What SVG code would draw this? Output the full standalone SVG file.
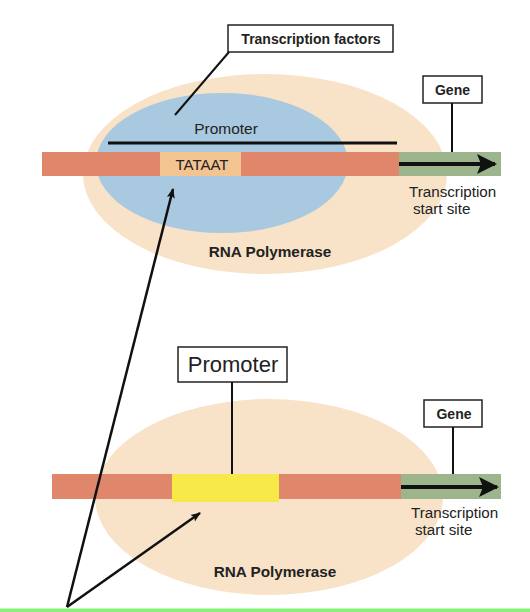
<svg xmlns="http://www.w3.org/2000/svg" width="530" height="612" viewBox="0 0 530 612">
<style>
.lbl{font-family:"Liberation Sans",Arial,sans-serif;fill:#222}
.b{font-weight:bold;font-size:14px}
.rp{font-weight:bold;font-size:15.3px}
.n{font-size:15.2px}
.box{fill:#fff;stroke:#222;stroke-width:1.5}
.ln{stroke:#111;stroke-width:2;fill:none}
.red{fill:#e0866a}
.grn{fill:#9cb58c}
.pol{fill:#f8e3c8}
</style>
<defs>
<marker id="ah" viewBox="0 0 10 10" refX="9" refY="5" markerWidth="10" markerHeight="10" orient="auto" markerUnits="userSpaceOnUse">
<path d="M0,1 L10,5 L0,9 L2,5 Z" fill="#111"/>
</marker>
<marker id="ah2" viewBox="0 0 10 10" refX="9" refY="5" markerWidth="5" markerHeight="5" orient="auto">
<path d="M0,0 L10,5 L0,10 L2,5 Z" fill="#111"/>
</marker>
</defs>
<rect width="530" height="612" fill="#fff"/>

<g id="top-diagram">
<ellipse id="rna-polymerase-top" class="pol" cx="265" cy="174" rx="182" ry="100"/>
<ellipse id="transcription-factors-blob" cx="222" cy="163" rx="126" ry="70" fill="#a9c9e0"/>
<text class="lbl" x="226" y="134" text-anchor="middle" font-size="15.5">Promoter</text>
<line x1="108" y1="143" x2="397" y2="143" stroke="#111" stroke-width="3"/>
<rect class="red" x="42" y="152" width="357" height="24"/>
<rect class="grn" x="399" y="152" width="102" height="24"/>
<rect id="tataat" x="160" y="152" width="81" height="24" fill="#f3c390"/>
<text class="lbl" x="202" y="170" text-anchor="middle" font-size="15">TATAAT</text>
<text class="lbl rp" x="270" y="257" text-anchor="middle">RNA Polymerase</text>
<text class="lbl n" x="409" y="197">Transcription</text>
<text class="lbl n" x="413" y="214">start site</text>
</g>

<g id="tf-label">
<rect class="box" x="228" y="25" width="165" height="27"/>
<text class="lbl b" x="311" y="43.5" text-anchor="middle">Transcription factors</text>
</g>
<g id="gene-label-top">
<rect class="box" x="423" y="76" width="59" height="27"/>
<text class="lbl b" x="452.5" y="94.5" text-anchor="middle">Gene</text>
</g>

<g id="bottom-diagram">
<ellipse id="rna-polymerase-bottom" class="pol" cx="269" cy="497" rx="174" ry="98"/>
<rect class="red" x="52" y="474" width="349" height="25"/>
<rect class="grn" x="401" y="474" width="100" height="25"/>
<rect id="promoter-yellow" x="172" y="474" width="107" height="28" fill="#f7ea48"/>
<text class="lbl rp" x="275" y="577" text-anchor="middle">RNA Polymerase</text>
<text class="lbl n" x="411" y="518">Transcription</text>
<text class="lbl n" x="415" y="535">start site</text>
</g>

<g id="promoter-label">
<rect class="box" x="178" y="347" width="109" height="35"/>
<text class="lbl" x="233" y="372" text-anchor="middle" font-size="22">Promoter</text>
</g>
<g id="gene-label-bottom">
<rect class="box" x="424" y="400" width="58" height="27"/>
<text class="lbl b" x="454" y="418.5" text-anchor="middle">Gene</text>
</g>

<g id="connectors">
<line class="ln" x1="229" y1="52" x2="175" y2="115"/>
<line class="ln" x1="452" y1="103" x2="452" y2="152"/>
<line x1="399" y1="164" x2="495" y2="164" stroke="#111" stroke-width="4" marker-end="url(#ah2)"/>
<line class="ln" x1="232" y1="382" x2="232" y2="474"/>
<line class="ln" x1="453" y1="427" x2="453" y2="474"/>
<line x1="401" y1="487" x2="497" y2="487" stroke="#111" stroke-width="4" marker-end="url(#ah2)"/>
<line x1="67" y1="607" x2="173" y2="189" stroke="#111" stroke-width="2.5" marker-end="url(#ah)"/>
<line x1="67" y1="607" x2="200" y2="513" stroke="#111" stroke-width="2.5" marker-end="url(#ah)"/>
</g>

<rect id="bottom-edge" x="0" y="608.5" width="530" height="3.5" fill="#86f07a"/>
</svg>
